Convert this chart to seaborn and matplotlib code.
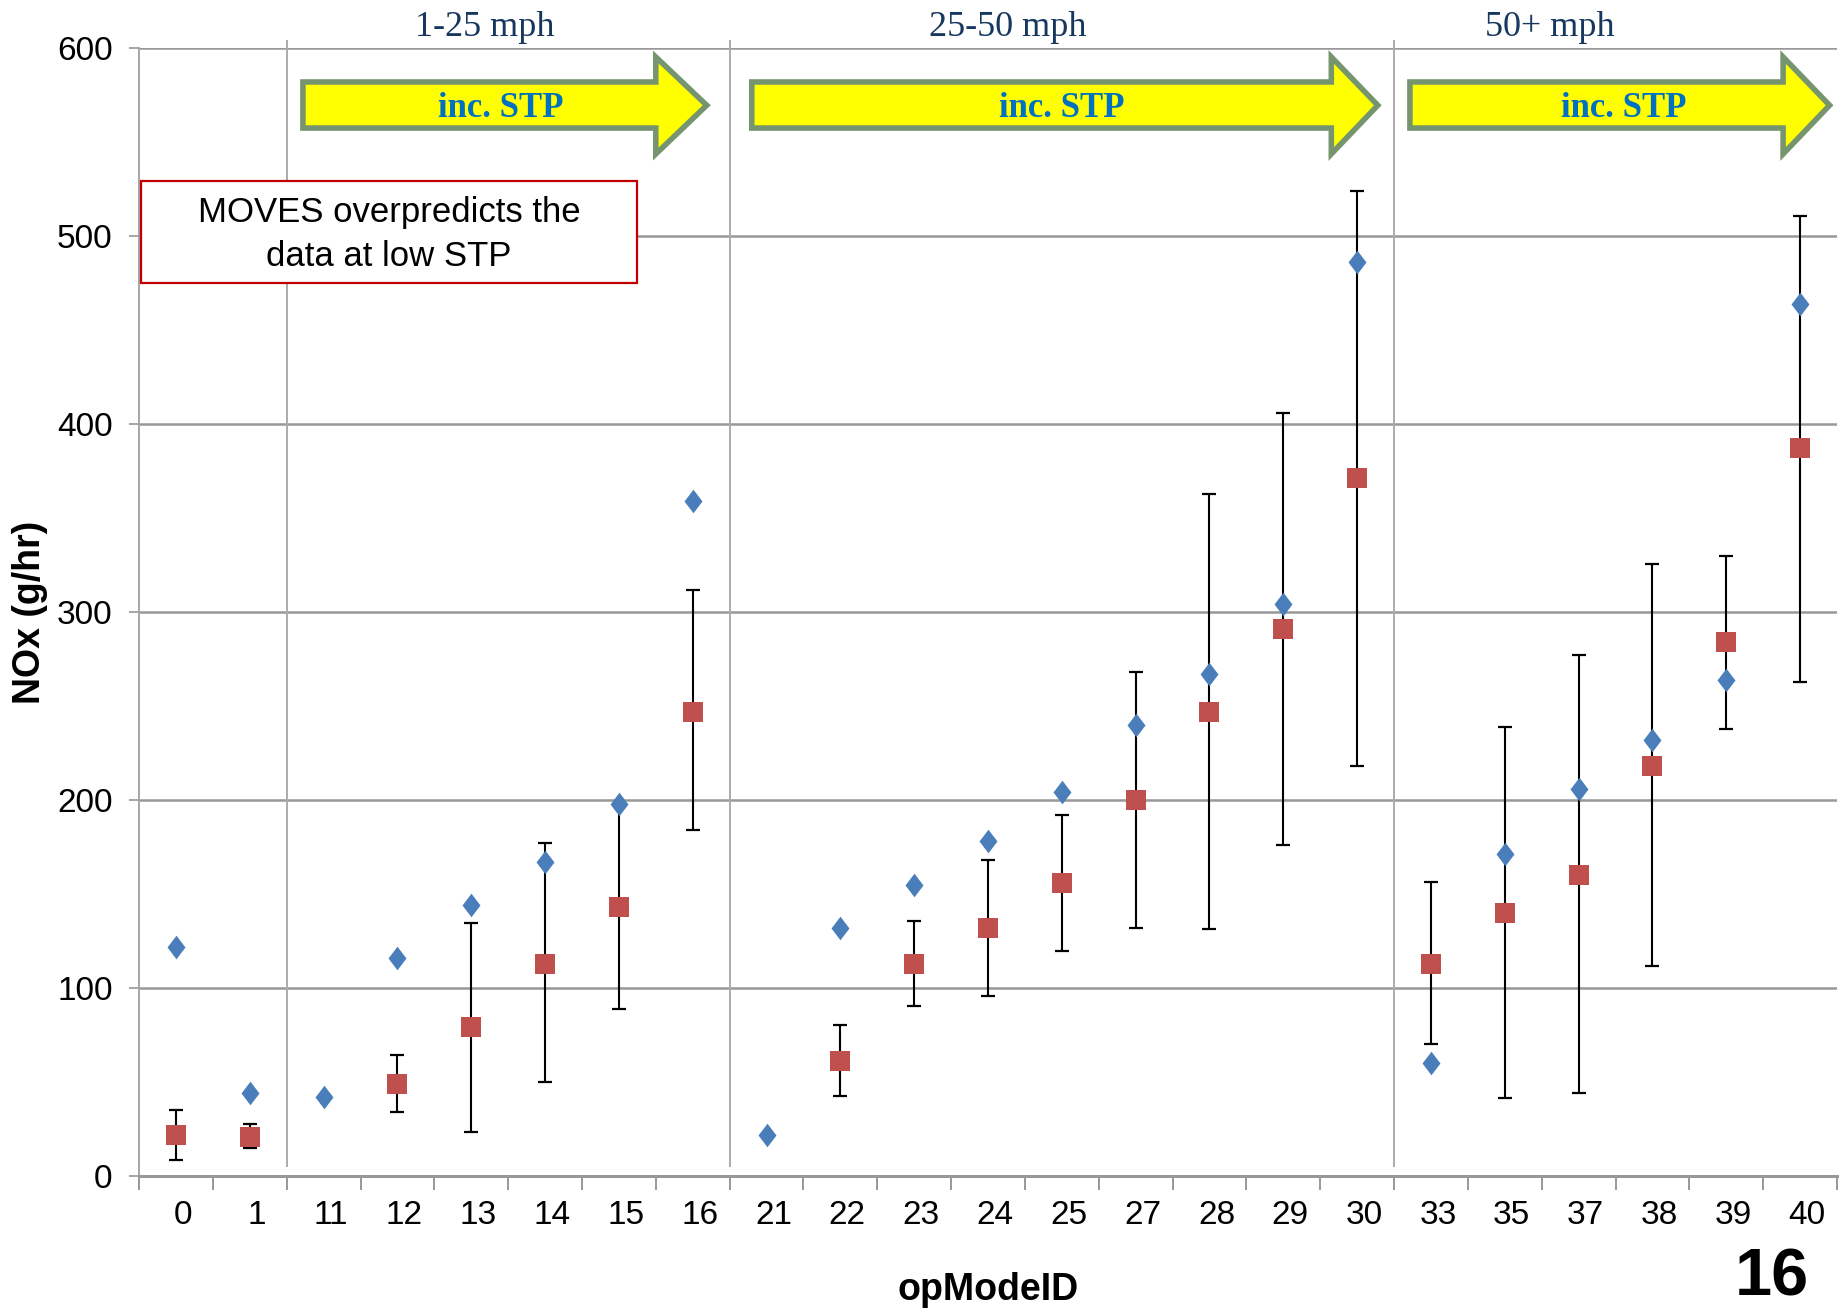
import numpy as np
import pandas as pd
import matplotlib.pyplot as plt
import matplotlib.transforms as mtransforms
from matplotlib.patches import Polygon, Rectangle
import seaborn as sns

# opModeID categories along the x axis
op_mode_ids = ["0", "1", "11", "12", "13", "14", "15", "16", "21", "22", "23", "24",
               "25", "27", "28", "29", "30", "33", "35", "37", "38", "39", "40"]

# MOVES prediction (blue diamonds)
moves_nox = [122, 44, 42, 116, 144, 167, 198, 359, 22, 132, 155, 178,
             204, 240, 267, 304, 486, 60, 171, 206, 232, 264, 464]

# measured data mean (red squares) with error bar limits
data_nox = [22, 21, np.nan, 49, 79, 113, 143, 247, np.nan, 61, 113, 132,
            156, 200, 247, 291, 371, 113, 140, 160, 218, 284, 387]
data_hi = [35, 27.7, np.nan, 64.4, 134.3, 177, 198, 311.6, np.nan, 80.5, 135.6, 168.3,
           192, 268, 363, 406, 524, 156.4, 239, 277, 325.4, 329.8, 510.6]
data_lo = [8.5, 14.7, np.nan, 34, 23.2, 49.8, 88.7, 184, np.nan, 42.4, 90.2, 95.9,
           119.7, 132.1, 131.2, 176, 218, 70, 41.3, 44, 111.7, 238, 262.5]

speed_bins = ["1-25 mph", "25-50 mph", "50+ mph"]

df = pd.DataFrame({"opModeID": op_mode_ids, "MOVES": moves_nox, "Data": data_nox,
                   "hi": data_hi, "lo": data_lo})
df["pos"] = np.arange(len(df))

sns.set_theme(style="white")
plt.rcParams["font.family"] = ["Liberation Sans", "DejaVu Sans"]
plt.rcParams["text.color"] = "black"

fig = plt.figure(figsize=(18.44, 13.10), dpi=100)
ax = fig.add_axes([0.0754, 0.1023, 0.9208, 0.8611])

grid_col = "#989898"
ax.set_xlim(-0.5, len(df) - 0.5)
ax.set_ylim(0, 600)

# horizontal gridlines
for yv in range(100, 601, 100):
    ax.axhline(yv, color=grid_col, lw=1.8, zorder=0)

# section dividers
ax.vlines([1.5, 7.5, 16.5], 5, 604, color="#ABABAB", lw=1.4, zorder=0, clip_on=False)

# error bars
d = df.dropna(subset=["Data"])
ax.errorbar(d["pos"], d["Data"], yerr=[d["Data"] - d["lo"], d["hi"] - d["Data"]],
            fmt="none", ecolor="black", elinewidth=1.5, capsize=5, capthick=1.6, zorder=2)

diamond = [(-0.38, 0), (0, 0.5), (0.38, 0), (0, -0.5)]
sns.scatterplot(data=df, x="pos", y="MOVES", marker=diamond, s=17 ** 2,
                color="#4A7EBB", linewidth=0, ax=ax, zorder=3)
sns.scatterplot(data=d, x="pos", y="Data", marker="s", s=14.5 ** 2,
                color="#C0504D", linewidth=0, ax=ax, zorder=3)

# axes styling
for side in ["top", "right"]:
    ax.spines[side].set_visible(False)
ax.spines["left"].set_color("#A6A6A6")
ax.spines["left"].set_linewidth(1.4)
ax.spines["bottom"].set_color(grid_col)
ax.spines["bottom"].set_linewidth(2.2)

ax.set_yticks(range(0, 601, 100))
ax.tick_params(axis="y", direction="out", length=7, width=1.4, color="#A6A6A6",
               pad=12, labelsize=24, labelcolor="black", left=True)
ax.set_xticks(df["pos"])
ax.set_xticklabels(df["opModeID"])
ax.set_xticks(np.arange(-0.5, len(df)), minor=True)
ax.tick_params(axis="x", which="major", length=0, pad=17, labelsize=24, labelcolor="black")
ax.tick_params(axis="x", which="minor", direction="out", length=10, width=1.4,
               color=grid_col, bottom=True)
shift = mtransforms.ScaledTranslation(0.07, 0, fig.dpi_scale_trans)
for lab in ax.get_xticklabels():
    lab.set_transform(lab.get_transform() + shift)

ax.set_xlabel("opModeID", fontsize=27, fontweight="bold", color="black")
ax.set_ylabel("NOx (g/hr)", fontsize=27, fontweight="bold", color="black")
ax.xaxis.label.set_va("center")
ax.yaxis.label.set_va("center")
ax.xaxis.set_label_coords(0.5, -0.101)
ax.yaxis.set_label_coords(-0.064, 0.5)

# speed headers
for xc, txt in zip([4.18, 11.27, 18.61], speed_bins):
    ax.text(xc, 611, txt, ha="center", va="center", fontsize=26, color="#17375E",
            family=["Liberation Serif", "DejaVu Serif"], clip_on=False)

# "inc. STP" arrows
arrows = [(1.72, 6.50, 7.19, 4.40), (7.80, 15.65, 16.28, 12.0), (16.715, 21.77, 22.40, 19.61)]
for x0, xh, xt, xtxt in arrows:
    pts = [(x0, 557.4), (x0, 581.9), (xh, 581.9), (xh, 595.2), (xt, 569.5),
           (xh, 543.6), (xh, 557.4)]
    ax.add_patch(Polygon(pts, closed=True, facecolor="#FFFF00", edgecolor="#76956E",
                         lw=4, joinstyle="miter", zorder=4, clip_on=False))
    ax.text(xtxt, 568, "inc. STP", ha="center", va="center", fontsize=25,
            fontweight="bold", color="#0070C0",
            family=["Liberation Serif", "DejaVu Serif"], zorder=5)

# note box
ax.add_patch(Rectangle((-0.473, 475), 6.718, 54.3, facecolor="white", edgecolor="#C00000",
                       lw=1.6, zorder=4, clip_on=False))
ax.text(2.886, 501, "MOVES overpredicts the\ndata at low STP", ha="center", va="center",
        fontsize=25, color="black", linespacing=1.42, zorder=5)

# slide number
fig.text(1772 / 1844, 1 - 1279 / 1310, "16", ha="center", va="center", fontsize=48,
         fontweight="bold", color="black")

fig.savefig("out.png", dpi=100)
